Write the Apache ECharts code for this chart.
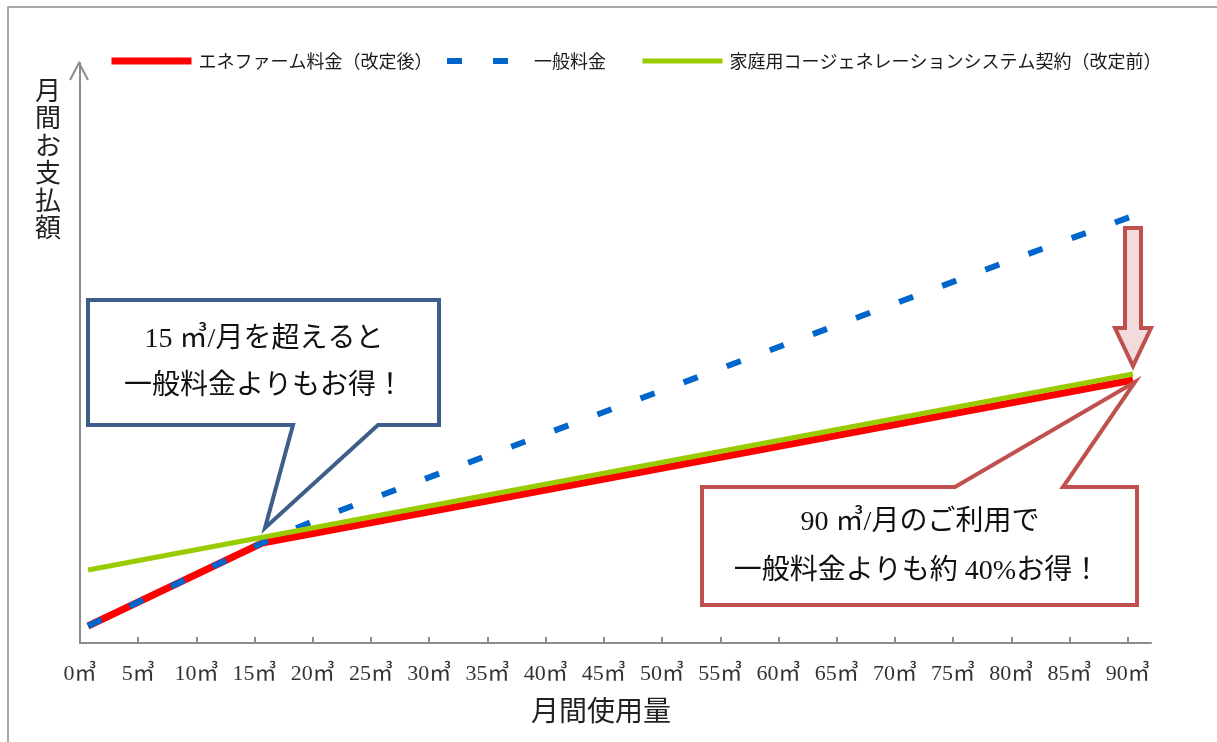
<!DOCTYPE html>
<html>
<head>
<meta charset="utf-8">
<script src="https://cdn.jsdelivr.net/npm/echarts@6/dist/echarts.min.js"></script>
<style>
html,body{margin:0;padding:0;background:#fff;}
#c{width:1217px;height:742px;}
</style>
</head>
<body>
<div id="c"></div>
<script>
// ---- data (y in arbitrary units) ----
const xTicks = [0,5,10,15,20,25,30,35,40,45,50,55,60,65,70,75,80,85,90];
const seriesNames = ['エネファーム料金（改定後）', '一般料金', '家庭用コージェネレーションシステム契約（改定前）'];
const redX = [0, 15, 90];
const redY = [17, 100, 263];
const blueX = [0, 15, 20, 80, 90];
const blueY = [17, 100, 125, 385, 427];
const greenX = [0, 90];
const greenY = [73, 269];

function pairs(xs, ys){ return xs.map((x,i)=>[x, ys[i]]); }

const chart = echarts.init(document.getElementById('c'), null, {renderer:'canvas'});
const serifJP = "'Liberation Serif','Noto Sans CJK JP',serif";
const axisGray = '#8c8c8c';

function legendAt(left, name){
  return {
    left: left, top: 52, padding: 0,
    itemWidth: 80, itemHeight: 14,
    itemStyle: {opacity: 0},
    lineStyle: {width: 'inherit', type: 'inherit', cap: 'butt'},
    textStyle: {fontSize: 18, fontFamily: "'Noto Sans CJK JP',sans-serif", color: '#1a1a1a', padding: [0,0,0,2]},
    data: [name]
  };
}

chart.setOption({
  animation: false,
  backgroundColor: '#fff',
  legend: [
    legendAt(108, seriesNames[0]),
    legendAt(444, seriesNames[1]),
    legendAt(640, seriesNames[2])
  ],
  grid: {left: 80, right: 66, top: 63, bottom: 99},
  xAxis: [
    {
      type: 'value', min: 0, max: 92,
      axisLine: {show: true, lineStyle: {color: axisGray, width: 2}},
      axisTick: {show: true, inside: true, length: 6, lineStyle: {color: axisGray, width: 2}, customValues: xTicks},
      axisLabel: {
        customValues: xTicks, margin: 20,
        fontSize: 22, fontFamily: serifJP, color: '#333',
        formatter: v => v + '㎥'
      },
      splitLine: {show: false}
    },
    {
      type: 'value', min: -0.689, max: 91.55, show: false,
      splitLine: {show: false}
    }
  ],
  yAxis: {
    type: 'value', min: 0, max: 580,
    axisLine: {show: true, lineStyle: {color: axisGray, width: 2}},
    axisTick: {show: false}, axisLabel: {show: false}, splitLine: {show: false}
  },
  series: [
    {
      name: seriesNames[0], type: 'line', xAxisIndex: 1, symbol: 'none',
      data: pairs(redX, redY),
      lineStyle: {color: '#FF0000', width: 7, cap: 'butt'},
      itemStyle: {color: '#FF0000'}
    },
    {
      name: seriesNames[1], type: 'line', xAxisIndex: 1, symbol: 'none',
      data: pairs(blueX, blueY),
      lineStyle: {color: '#0066CC', width: 6, type: [15, 31], cap: 'butt'},
      itemStyle: {color: '#0066CC'}
    },
    {
      name: seriesNames[2], type: 'line', xAxisIndex: 1, symbol: 'none',
      data: pairs(greenX, greenY),
      lineStyle: {color: '#99CC00', width: 5, cap: 'butt'},
      itemStyle: {color: '#99CC00'}
    }
  ],
  graphic: [
    // outer frame
    {type: 'rect', shape: {x: 8, y: 7, width: 1300, height: 800}, style: {fill: 'none', stroke: axisGray, lineWidth: 1.5}, silent: true, z: 0},
    // y axis arrow head
    {type: 'polyline', shape: {points: [[70,80],[79,63],[88,80]]}, style: {fill: 'none', stroke: axisGray, lineWidth: 2}, z: 10},
    // y axis name (vertical)
    {type: 'text', x: 48, y: 79, style: {text: '月\n間\nお\n支\n払\n額', fontSize: 26, lineHeight: 27.5, fontFamily: serifJP, fill: '#222', align: 'center', verticalAlign: 'top'}, z: 10},
    // x axis name
    {type: 'text', x: 601, y: 714, style: {text: '月間使用量', fontSize: 28, fontFamily: serifJP, fill: '#222', align: 'center', verticalAlign: 'middle'}, z: 10},
    // blue callout
    {type: 'polygon', shape: {points: [[88,300],[439,300],[439,425],[378,425],[265,528],[293,425],[88,425]]}, style: {fill: '#fff', stroke: '#3D5E89', lineWidth: 4, lineJoin: 'miter'}, z: 20},
    {type: 'text', x: 264, y: 340, style: {text: '15 ㎥/月を超えると', fontSize: 28, fontFamily: serifJP, fill: '#111', align: 'center', verticalAlign: 'middle'}, z: 21},
    {type: 'text', x: 264, y: 387, style: {text: '一般料金よりもお得！', fontSize: 28, fontFamily: serifJP, fill: '#111', align: 'center', verticalAlign: 'middle'}, z: 21},
    // red callout
    {type: 'polygon', shape: {points: [[702,487],[955,487],[1135,382],[1063,487],[1137,487],[1137,605],[702,605]]}, style: {fill: '#fff', stroke: '#C0504D', lineWidth: 4, lineJoin: 'miter'}, z: 20},
    {type: 'text', x: 920, y: 523, style: {text: '90 ㎥/月のご利用で', fontSize: 28, fontFamily: serifJP, fill: '#111', align: 'center', verticalAlign: 'middle'}, z: 21},
    {type: 'text', x: 917, y: 572, style: {text: '一般料金よりも約 40%お得！', fontSize: 28, fontFamily: serifJP, fill: '#111', align: 'center', verticalAlign: 'middle'}, z: 21},
    // down arrow
    {type: 'polygon', shape: {points: [[1125,228],[1141,228],[1141,328],[1151,328],[1133,366],[1115,328],[1125,328]]}, style: {fill: '#F2DCDB', stroke: '#C0504D', lineWidth: 4}, z: 20}
  ]
});
</script>
</body>
</html>
